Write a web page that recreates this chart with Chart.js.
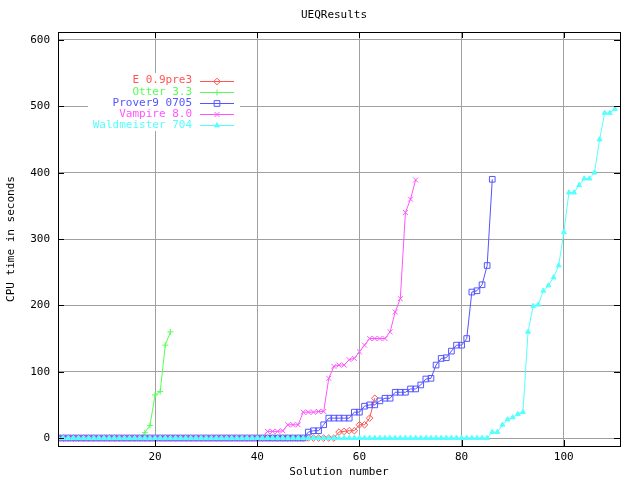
<!DOCTYPE html>
<html>
<head>
<meta charset="utf-8">
<title>UEQResults</title>
<script src="https://cdn.jsdelivr.net/npm/chart.js@4.4.1/dist/chart.umd.min.js"></script>
<style>
  html, body { margin: 0; padding: 0; background: #fff; }
  #wrap { width: 640px; height: 480px; }
</style>
</head>
<body>
<div id="wrap"><canvas id="ueqChart" width="640" height="480"></canvas></div>
<script>
// Chart data (CPU time of the n-th solved problem)
const chartTitle = 'UEQResults';
const xAxisLabel = 'Solution number';
const yAxisLabel = 'CPU time in seconds';
const xTicks = [20, 40, 60, 80, 100];
const yTicks = [0, 100, 200, 300, 400, 500, 600];

const seriesNames = ['E 0.9pre3', 'Otter 3.3', 'Prover9 0705', 'Vampire 8.0', 'Waldmeister 704'];

const eTimes = [
    0, 0, 0, 0, 0, 0, 0, 0, 0, 0, 0, 0, 0, 0, 0, 0, 0, 0, 0, 0,
    0, 0, 0, 0, 0, 0, 0, 0, 0, 0, 0, 0, 0, 0, 0, 0, 0, 0, 0, 0,
    0, 0, 0, 0, 0, 0, 0, 0, 0, 0, 0, 0, 0, 0, 0,
    9, 10, 11, 11, 20, 20, 30, 60
];
const otterTimes = [
    0, 0, 0, 0, 0, 0, 0, 0, 0, 0, 0, 0, 0, 0, 0, 0, 0,
    8, 19, 65, 70, 140, 160
];
const prover9Times = [
    0, 0, 0, 0, 0, 0, 0, 0, 0, 0, 0, 0, 0, 0, 0, 0, 0, 0, 0, 0,
    0, 0, 0, 0, 0, 0, 0, 0, 0, 0, 0, 0, 0, 0, 0, 0, 0, 0, 0, 0,
    0, 0, 0, 0, 0, 0, 0, 0, 0,
    9, 11, 11, 20, 30, 30, 30, 30, 30, 39, 39, 48, 50, 50, 56, 60, 60,
    69, 69, 69, 74, 74, 80, 89, 90, 110, 120, 121, 131, 140, 140, 150,
    220, 222, 231, 260, 390
];
const vampireTimes = [
    0, 0, 0, 0, 0, 0, 0, 0, 0, 0, 0, 0, 0, 0, 0, 0, 0, 0, 0, 0,
    0, 0, 0, 0, 0, 0, 0, 0, 0, 0, 0, 0, 0, 0, 0, 0, 0, 0, 0, 0,
    0,
    10, 10, 10, 11, 20, 20, 20, 39, 39, 39, 40, 40, 90, 108, 110, 110,
    118, 120, 130, 140, 150, 150, 150, 150, 160, 190, 210, 340, 360, 389
];
const waldmeisterTimes = [
    0, 0, 0, 0, 0, 0, 0, 0, 0, 0, 0, 0, 0, 0, 0, 0, 0, 0, 0, 0,
    0, 0, 0, 0, 0, 0, 0, 0, 0, 0, 0, 0, 0, 0, 0, 0, 0, 0, 0, 0,
    0, 0, 0, 0, 0, 0, 0, 0, 0, 0, 0, 0, 0, 0, 0, 0, 0, 0, 0, 0,
    0, 0, 0, 0, 0, 0, 0, 0, 0, 0, 0, 0, 0, 0, 0, 0, 0, 0, 0, 0,
    0, 0, 0, 0, 0,
    9, 9, 20, 28, 31, 36, 39, 160, 199, 201, 222, 230, 242, 260, 310,
    370, 370, 381, 391, 391, 400, 450, 490, 490, 496
];

const FONT = { family: "'DejaVu Sans Mono', monospace", size: 11 };

// styles per series (gnuplot-ish palette and point types)
const styles = [
    { color: '#ff5555', pointStyle: 'rectRot', radius: 3.3, fill: false },
    { color: '#55ff55', pointStyle: 'cross', radius: 3, fill: false },
    { color: '#5555ff', pointStyle: 'rect', radius: 4, fill: false },
    { color: '#ff55ff', pointStyle: 'crossRot', radius: 3.5, fill: false },
    { color: '#55ffff', pointStyle: 'triangle', radius: 2.8, fill: true }
];

const allTimes = [eTimes, otterTimes, prover9Times, vampireTimes, waldmeisterTimes];

function toPoints(times) {
    return times.map((t, i) => ({ x: i + 1, y: t }));
}

function drawMarker(ctx, st, x, y) {
    ctx.save();
    ctx.strokeStyle = st.color;
    ctx.fillStyle = st.fill ? st.color : 'rgba(0,0,0,0)';
    ctx.lineWidth = 1;
    if (Chart.helpers && Chart.helpers.drawPoint) {
        Chart.helpers.drawPoint(ctx, {
            pointStyle: st.pointStyle, radius: st.radius, rotation: 0, borderWidth: 1
        }, x, y);
    }
    ctx.restore();
}

// gnuplot-like frame, inward ticks, title and key
const gnuplotDecor = {
    id: 'gnuplotDecor',
    beforeDatasetsDraw(chart) {
        const ctx = chart.ctx;
        // key background hides the grid behind it
        ctx.save();
        ctx.fillStyle = '#ffffff';
        ctx.fillRect(88, 73, 152, 58);
        ctx.restore();
    },
    afterDatasetsDraw(chart) {
        const ctx = chart.ctx;
        const { left, right, top, bottom } = chart.chartArea;
        const xs = chart.scales.x;
        const ys = chart.scales.y;

        ctx.save();
        ctx.strokeStyle = '#000000';
        ctx.lineWidth = 1;
        ctx.strokeRect(left + 0.5, top + 0.5, right - left, bottom - top);

        ctx.beginPath();
        xTicks.forEach(v => {
            const px = Math.round(xs.getPixelForValue(v)) + 0.5;
            ctx.moveTo(px, bottom); ctx.lineTo(px, bottom - 6);
            ctx.moveTo(px, top); ctx.lineTo(px, top + 6);
        });
        yTicks.forEach(v => {
            const py = Math.round(ys.getPixelForValue(v)) + 0.5;
            ctx.moveTo(left, py); ctx.lineTo(left + 6, py);
            ctx.moveTo(right, py); ctx.lineTo(right - 6, py);
        });
        ctx.stroke();

        // title
        ctx.font = `${FONT.size}px ${FONT.family}`;
        ctx.fillStyle = '#000000';
        ctx.textAlign = 'center';
        ctx.textBaseline = 'middle';
        ctx.fillText(chartTitle, 334, 15);

        // key
        ctx.textAlign = 'right';
        seriesNames.forEach((name, i) => {
            const y = 80.5 + i * 11.2;
            const st = styles[i];
            ctx.fillStyle = st.color;
            ctx.fillText(name, 192, y);
            const ly = Math.round(y) + 0.5;
            ctx.beginPath();
            ctx.strokeStyle = st.color;
            ctx.moveTo(200, ly); ctx.lineTo(234, ly);
            ctx.stroke();
            drawMarker(ctx, st, 217, ly);
        });
        ctx.restore();
    }
};

document.addEventListener('DOMContentLoaded', () => {
    const ctx = document.getElementById('ueqChart').getContext('2d');

    const datasets = seriesNames.map((name, i) => ({
        label: name,
        data: toPoints(allTimes[i]),
        borderColor: styles[i].color,
        backgroundColor: styles[i].color,
        borderWidth: 1,
        pointStyle: styles[i].pointStyle,
        pointRadius: styles[i].radius,
        pointBorderWidth: 1,
        pointBorderColor: styles[i].color,
        pointBackgroundColor: styles[i].fill ? styles[i].color : 'rgba(0,0,0,0)',
        fill: false,
        tension: 0,
        order: seriesNames.length - i   // later series drawn on top, like gnuplot
    }));

    new Chart(ctx, {
        type: 'line',
        data: { datasets },
        options: {
            responsive: false,
            animation: false,
            devicePixelRatio: 1,
            layout: { padding: { top: 32, right: 20, bottom: 0, left: 0 } },
            plugins: {
                legend: { display: false },
                title: { display: false },
                tooltip: { enabled: false }
            },
            scales: {
                x: {
                    type: 'linear',
                    min: 1,
                    max: 111,
                    afterBuildTicks: scale => { scale.ticks = xTicks.map(v => ({ value: v })); },
                    afterFit: scale => { scale.height = 34; },
                    grid: { color: '#a0a0a0', drawTicks: false },
                    border: { display: false },
                    ticks: { color: '#000', font: FONT, padding: 5, maxRotation: 0 },
                    title: {
                        display: true, text: xAxisLabel, color: '#000', font: FONT,
                        padding: { top: 0, bottom: 1 }
                    }
                },
                y: {
                    type: 'linear',
                    min: -12,
                    max: 612,
                    afterBuildTicks: scale => { scale.ticks = yTicks.map(v => ({ value: v })); },
                    afterFit: scale => { scale.width = 58; },
                    grid: { color: '#a0a0a0', drawTicks: false },
                    border: { display: false },
                    ticks: { color: '#000', font: FONT, padding: 8 },
                    title: {
                        display: true, text: yAxisLabel, color: '#000', font: FONT,
                        padding: { top: 5, bottom: 0 }
                    }
                }
            }
        },
        plugins: [gnuplotDecor]
    });
});
</script>
</body>
</html>
